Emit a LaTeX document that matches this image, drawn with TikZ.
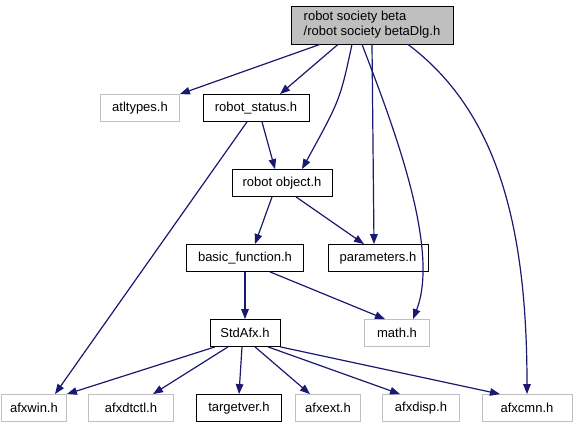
\documentclass[tikz,border=0pt]{standalone}
\usepackage{fontspec}
\setmainfont{Liberation Sans}
\usetikzlibrary{arrows.meta}
\definecolor{edgeblue}{HTML}{191970}
\definecolor{extgray}{HTML}{BFBFBF}
\begin{document}
\begin{tikzpicture}[
    x=1pt, y=-1pt,
    font=\fontsize{13}{15}\selectfont,
    file/.style={
        draw=black, thick, fill=white,
        minimum height=27pt, inner xsep=6pt, inner ysep=2pt,
        align=center
    },
    extfile/.style={file, draw=extgray},
    rootfile/.style={file, fill=extgray, minimum height=38pt, align=left},
    dep/.style={-{Triangle[length=10pt,width=7.5pt,fill=edgeblue]},
        draw=edgeblue, line width=1.2pt}
]
\useasboundingbox (0,0) rectangle (576,425);

% Root file
\node[rootfile, minimum width=162pt] (root) at (372,25) {robot society beta\\/robot society betaDlg.h};

% Second level
\node[extfile, minimum width=79pt] (atl) at (140,108) {atltypes.h};
\node[file, minimum width=106pt] (status) at (256,108) {robot\_status.h};
\node[file, minimum width=100pt] (object) at (282,183) {robot object.h};

% Middle
\node[file, minimum width=117pt] (basic) at (245,258) {basic\_function.h};
\node[file, minimum width=100pt] (params) at (378,258) {parameters.h};
\node[file, minimum width=70pt] (stdafx) at (245,333) {StdAfx.h};
\node[extfile, minimum width=65pt] (math) at (397,333) {math.h};

% Bottom row
\node[extfile, minimum width=65pt] (afxwin) at (34,408) {afxwin.h};
\node[extfile, minimum width=85pt] (afxdtctl) at (131,408) {afxdtctl.h};
\node[file, minimum width=85pt] (targetver) at (239,408) {targetver.h};
\node[extfile, minimum width=65pt] (afxext) at (328,408) {afxext.h};
\node[extfile, minimum width=77pt] (afxdisp) at (421,408) {afxdisp.h};
\node[extfile, minimum width=90pt] (afxcmn) at (527,408) {afxcmn.h};

% Includes of the root file
\draw[dep] (root.south -| 320,0) -- (atl.north east);
\draw[dep] (root.south -| 338,0) -- (status.north -| 280,0);
\draw[dep] (root.south -| 352,0) .. controls (340,100) .. (object.north -| 302,0);
\draw[dep] (root.south -| 372,0) -- (params.north -| 374,0);
\draw[dep] (root.south -| 362,0) .. controls (395,130) and (440,250) .. (math.north -| 413,0);
\draw[dep] (root.south -| 408,0) .. controls (495,110) and (527,220) .. (afxcmn.north -| 527,0);

% robot_status.h
\draw[dep] (status.south -| 262,0) -- (object.north -| 275,0);
\draw[dep] (status.south -| 247,0) -- (afxwin.north -| 55,0);

% robot object.h
\draw[dep] (object.south -| 272,0) -- (basic.north -| 255,0);
\draw[dep] (object.south -| 296,0) -- (params.north -| 364,0);

% basic_function.h
\draw[dep] (basic.south -| 245,0) -- (stdafx.north);
\draw[dep] (basic.south -| 270,0) -- (math.north -| 385,0);

% StdAfx.h
\draw[dep] (stdafx.south -| 215,0) -- (afxwin.north east);
\draw[dep] (stdafx.south -| 228,0) -- (afxdtctl.north -| 153,0);
\draw[dep] (stdafx.south -| 242,0) -- (targetver.north);
\draw[dep] (stdafx.south -| 255,0) -- (afxext.north -| 310,0);
\draw[dep] (stdafx.south -| 268,0) -- (afxdisp.north -| 400,0);
\draw[dep] (stdafx.south east) -- (afxcmn.north -| 500,0);

\end{tikzpicture}
\end{document}
